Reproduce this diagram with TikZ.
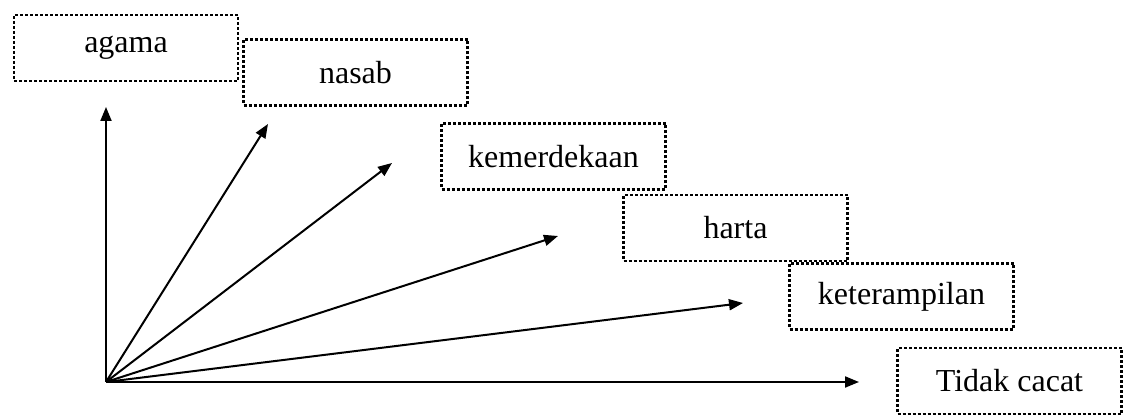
\documentclass[tikz,border=0pt]{standalone}
\usepackage{fontspec}
\setmainfont{Liberation Serif}
\usetikzlibrary{arrows.meta}
\begin{document}
\begin{tikzpicture}[x=0.5pt,y=-0.5pt,
  box/.style={draw, line width=1.3pt, dash pattern=on 1.5pt off 1pt, minimum width=112pt, minimum height=33pt, inner sep=0pt, font=\fontsize{16}{19}\selectfont},
  arr/.style={line width=1pt, -{Triangle[length=7pt,width=5.5pt]}}]
\useasboundingbox (0,0) rectangle (1125,415);
\node[box] (agama) at (126,48) {agama};
\node[box] (nasab) at (355.5,72.5) {nasab};
\node[box] (merdeka) at (553.5,156.5) {kemerdekaan};
\node[box] (harta) at (735.5,228) {harta};
\node[box] (terampil) at (901.5,296.5) {keterampilan};
\node[box] (cacat) at (1009.5,381) {Tidak cacat};
\coordinate (O) at (106,382);
\coordinate (t1) at (106,107);
\coordinate (t2) at (268,124);
\coordinate (t3) at (392,163);
\coordinate (t4) at (558,236);
\coordinate (t5) at (743,303);
\coordinate (t6) at (859,382);
\foreach \t in {t1,t2,t3,t4,t5,t6} \draw[arr] (O) -- (\t);
\end{tikzpicture}
\end{document}
